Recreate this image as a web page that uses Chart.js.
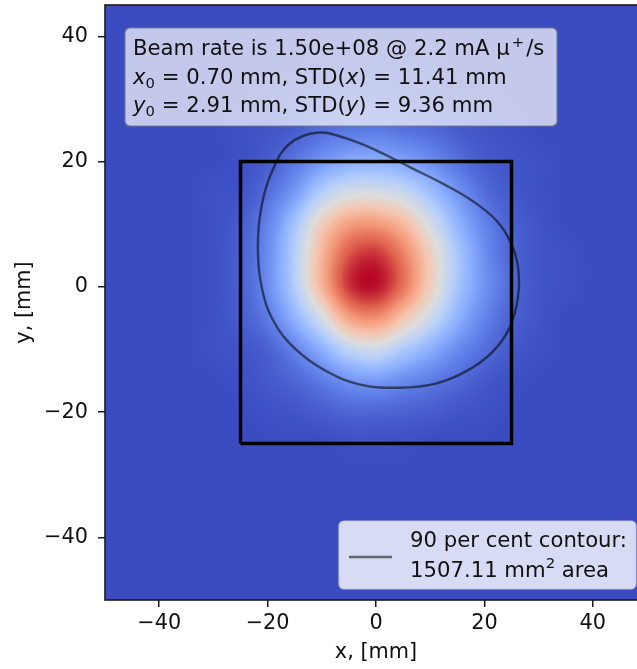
<!DOCTYPE html>
<html>
<head>
<meta charset="utf-8">
<script src="https://cdn.jsdelivr.net/npm/chart.js@4.4.1/dist/chart.umd.min.js"></script>
<style>
  html, body { margin: 0; padding: 0; background: #fff; overflow: hidden; }
  #wrap { width: 660px; height: 669px; }
</style>
</head>
<body>
<div id="wrap"><canvas id="beam" width="660" height="669"></canvas></div>
<script>
// tick labels
const xTicks = [-40, -20, 0, 20, 40];
const yTicks = [-40, -20, 0, 20, 40];

// beam intensity (0 = background, 1 = peak), 5 mm grid
const gridX = [-30, -25, -20, -15, -10, -5, 0, 5, 10, 15, 20, 25, 30, 35];
const gridY = [35, 30, 25, 20, 15, 10, 5, 0, -5, -10, -15, -20, -25];
const intensity = [
  [0, 0, 0, 0, 0.01, 0.01, 0.01, 0.01, 0.01, 0, 0, 0, 0, 0],
  [0, 0, 0.01, 0.02, 0.03, 0.04, 0.04, 0.03, 0.02, 0.01, 0.01, 0, 0, 0],
  [0, 0.01, 0.02, 0.04, 0.08, 0.10, 0.11, 0.09, 0.07, 0.04, 0.02, 0.01, 0, 0],
  [0, 0.01, 0.04, 0.10, 0.18, 0.24, 0.25, 0.22, 0.16, 0.09, 0.04, 0.02, 0.01, 0],
  [0.01, 0.02, 0.08, 0.19, 0.37, 0.47, 0.48, 0.43, 0.31, 0.18, 0.08, 0.03, 0.01, 0],
  [0.01, 0.04, 0.13, 0.32, 0.58, 0.73, 0.75, 0.66, 0.47, 0.27, 0.13, 0.05, 0.02, 0],
  [0.01, 0.05, 0.15, 0.37, 0.67, 0.89, 0.94, 0.81, 0.58, 0.34, 0.16, 0.06, 0.02, 0.01],
  [0.01, 0.05, 0.15, 0.36, 0.67, 0.93, 0.98, 0.83, 0.58, 0.33, 0.17, 0.07, 0.02, 0.01],
  [0.01, 0.04, 0.11, 0.26, 0.47, 0.72, 0.77, 0.62, 0.44, 0.26, 0.13, 0.05, 0.02, 0],
  [0.01, 0.02, 0.05, 0.13, 0.25, 0.40, 0.45, 0.35, 0.25, 0.15, 0.08, 0.03, 0.01, 0],
  [0, 0.01, 0.03, 0.06, 0.11, 0.17, 0.19, 0.15, 0.11, 0.07, 0.03, 0.01, 0, 0],
  [0, 0, 0.01, 0.02, 0.04, 0.06, 0.06, 0.05, 0.04, 0.02, 0.01, 0, 0, 0],
  [0, 0, 0, 0, 0, 0.01, 0.01, 0.01, 0, 0, 0, 0, 0, 0]
];

// 90 per cent contour (closed ring, clockwise)
const contourX = [-11.0, -5.5, 0.5, 6.5, 12.5, 18.0, 22.2, 24.8, 26.2, 26.2, 24.7, 21.6, 17.0, 11.2, 4.4, -2.9, -9.3, -14.8, -18.9, -21.1, -21.8, -21.1, -19.0, -16.0];
const contourY = [24.6, 23.7, 21.6, 19.0, 16.4, 13.6, 10.6, 7.2, 3.2, -1.6, -6.4, -10.3, -13.3, -15.4, -16.1, -15.6, -13.4, -10.0, -5.5, 0.0, 6.4, 13.0, 18.8, 22.8];

// collimator window
const boxX = [-25, 25, 25, -25, -25];
const boxY = [-25, -25, 20, 20, -25];

// coolwarm colour stops
const coolwarm = [[59,76,192],[98,130,234],[141,176,254],[184,208,249],[221,221,221],[245,196,173],[244,154,123],[222,96,77],[180,4,38]];

const FONT = '"DejaVu Sans", "Liberation Sans", sans-serif';
const FS = 20.8;

function cell(i, j) {
  if (i < 0 || j < 0 || i >= gridX.length || j >= gridY.length) return 0;
  return intensity[j][i];
}
function catmull(p0, p1, p2, p3, t) {
  return p1 + 0.5 * t * (p2 - p0 + t * (2 * p0 - 5 * p1 + 4 * p2 - p3 + t * (3 * (p1 - p2) + p3 - p0)));
}
function valueAt(xv, yv) {
  const fx = (xv - gridX[0]) / (gridX[1] - gridX[0]);
  const fy = (yv - gridY[0]) / (gridY[1] - gridY[0]);
  const i = Math.floor(fx), j = Math.floor(fy);
  const tx = fx - i, ty = fy - j;
  const r = [];
  for (let m = -1; m <= 2; m++) {
    r.push(catmull(cell(i - 1, j + m), cell(i, j + m), cell(i + 1, j + m), cell(i + 2, j + m), tx));
  }
  return catmull(r[0], r[1], r[2], r[3], ty);
}
function colour(v) {
  v = Math.max(0, Math.min(1, v)) * (coolwarm.length - 1);
  const k = Math.min(Math.floor(v), coolwarm.length - 2);
  const t = v - k, a = coolwarm[k], b = coolwarm[k + 1];
  return [a[0] + (b[0] - a[0]) * t, a[1] + (b[1] - a[1]) * t, a[2] + (b[2] - a[2]) * t];
}

const heatmap = {
  id: 'heatmap',
  beforeDatasetsDraw(chart) {
    const {ctx, chartArea: a, scales: {x, y}} = chart;
    const left = Math.round(a.left), top = Math.round(a.top);
    const w = Math.round(a.right) - left, h = Math.round(a.bottom) - top;
    const img = ctx.createImageData(w, h);
    const xs = [];
    for (let c = 0; c < w; c++) xs.push(x.getValueForPixel(left + c + 0.5));
    for (let r = 0; r < h; r++) {
      const yv = y.getValueForPixel(top + r + 0.5);
      for (let c = 0; c < w; c++) {
        const col = colour(valueAt(xs[c], yv));
        const k = (r * w + c) * 4;
        img.data[k] = col[0]; img.data[k + 1] = col[1]; img.data[k + 2] = col[2]; img.data[k + 3] = 255;
      }
    }
    ctx.putImageData(img, left, top);
  }
};

// draw text made of runs: [text, italic, shift] where shift is 'sub', 'sup' or ''
function richText(ctx, runs, x, y, size) {
  let cx = x;
  runs.forEach(([t, it, shift]) => {
    const s = shift ? size * 0.7 : size;
    ctx.font = (it ? 'italic ' : '') + s + 'px ' + FONT;
    let dy = 0;
    if (shift === 'sub') dy = size * 0.2;
    if (shift === 'sup') dy = -size * 0.4;
    if (shift === 'sup' && t === '+') cx += 2;
    ctx.fillText(t, cx, y + dy);
    cx += ctx.measureText(t).width + (shift === 'sup' && t === '+' ? 2 : 0);
  });
}

function roundBox(ctx, x, y, w, h, r, fill, stroke) {
  ctx.beginPath();
  ctx.roundRect(x, y, w, h, r);
  ctx.fillStyle = fill;
  ctx.fill();
  ctx.lineWidth = 1.2;
  ctx.strokeStyle = stroke;
  ctx.stroke();
}

const notes = {
  id: 'notes',
  afterDatasetsDraw(chart) {
    const {ctx, chartArea: a} = chart;
    ctx.save();
    // info box
    roundBox(ctx, a.left + 20, a.top + 23, 432, 98, 5, 'rgba(255,255,255,0.7)', 'rgba(120,120,140,0.9)');
    ctx.fillStyle = '#111';
    ctx.textBaseline = 'alphabetic';
    ctx.textAlign = 'left';
    const bs = 21.2;
    richText(ctx, [['Beam rate is 1.50e+08 @ 2.2 mA \u03bc', false, ''], ['+', false, 'sup'], ['/s', false, '']], a.left + 28, a.top + 50, bs);
    richText(ctx, [['x', true, ''], ['0', false, 'sub'], [' = 0.70 mm, STD(', false, ''], ['x', true, ''], [') = 11.41 mm', false, '']], a.left + 28, a.top + 78.5, bs);
    richText(ctx, [['y', true, ''], ['0', false, 'sub'], [' = 2.91 mm, STD(', false, ''], ['y', true, ''], [') = 9.36 mm', false, '']], a.left + 28, a.top + 107, bs);
    // legend
    const lx = a.right - 308, ly = a.bottom - 79;
    roundBox(ctx, lx, ly, 297, 68, 5, 'rgba(255,255,255,0.8)', 'rgba(200,200,215,0.9)');
    ctx.beginPath();
    ctx.moveTo(lx + 10, ly + 36);
    ctx.lineTo(lx + 53, ly + 36);
    ctx.lineWidth = 2.4;
    ctx.strokeStyle = 'rgba(0,0,0,0.55)';
    ctx.stroke();
    ctx.fillStyle = '#111';
    const ls = 21.2;
    richText(ctx, [['90 per cent contour:', false, '']], lx + 71, ly + 25.5, ls);
    richText(ctx, [['1507.11 mm', false, ''], ['2', false, 'sup'], [' area', false, '']], lx + 71, ly + 55.5, ls);
    ctx.restore();
  },
  afterDraw(chart) {
    const {ctx, chartArea: a} = chart;
    ctx.save();
    ctx.lineWidth = 1.6;
    ctx.strokeStyle = '#1a1a1a';
    ctx.strokeRect(a.left, a.top, a.right - a.left, a.bottom - a.top);
    ctx.restore();
  }
};

const minus = v => String(v).replace('-', '\u2212');

// close the ring: one extra point on each end so the joint is smooth, end pieces hidden
const n = contourX.length;
const ringIdx = [n - 1, ...contourX.map((_, i) => i), 0, 1];
const ring = ringIdx.map(i => ({x: contourX[i], y: contourY[i]}));

new Chart(document.getElementById('beam'), {
  type: 'scatter',
  data: {
    datasets: [
      {
        label: 'window',
        data: boxX.map((v, i) => ({x: v, y: boxY[i]})),
        showLine: true,
        borderColor: '#000',
        borderWidth: 3.5,
        pointRadius: 0,
        tension: 0,
        borderJoinStyle: 'miter'
      },
      {
        label: '90 per cent contour',
        data: ring,
        showLine: true,
        borderColor: 'rgba(0,0,0,0.55)',
        borderWidth: 2.4,
        pointRadius: 0,
        tension: 0.4,
        segment: {
          borderColor: c => (c.p0DataIndex === 0 || c.p1DataIndex === ring.length - 1) ? 'rgba(0,0,0,0)' : undefined
        }
      }
    ]
  },
  options: {
    responsive: false,
    animation: false,
    devicePixelRatio: 1,
    layout: { padding: { top: 5, right: 13, left: 0, bottom: 0 } },
    plugins: { legend: { display: false }, tooltip: { enabled: false } },
    scales: {
      x: {
        type: 'linear',
        min: -50,
        max: 50,
        afterFit: s => { s.height = 69; s.paddingLeft = 0; s.paddingRight = 0; },
        afterBuildTicks: s => { s.ticks = xTicks.map(v => ({value: v})); },
        border: { display: false },
        grid: { drawOnChartArea: false, drawTicks: true, tickLength: 7, color: '#1a1a1a', lineWidth: 1.5 },
        ticks: { color: '#111', padding: 4, maxRotation: 0, font: { family: FONT, size: FS }, callback: minus },
        title: { display: true, text: 'x, [mm]', color: '#111', padding: { top: 0, bottom: 3.5 }, font: { family: FONT, size: FS } }
      },
      y: {
        type: 'linear',
        min: -50,
        max: 45,
        afterFit: s => { s.width = 105; s.paddingTop = 0; s.paddingBottom = 0; },
        afterBuildTicks: s => { s.ticks = yTicks.map(v => ({value: v})); },
        border: { display: false },
        grid: { drawOnChartArea: false, drawTicks: true, tickLength: 7, color: '#1a1a1a', lineWidth: 1.5 },
        ticks: { color: '#111', padding: 10, font: { family: FONT, size: FS }, callback: minus },
        title: { display: true, text: 'y, [mm]', color: '#111', padding: { top: 12.5, bottom: 0 }, font: { family: FONT, size: FS } }
      }
    }
  },
  plugins: [heatmap, notes]
});
</script>
</body>
</html>
